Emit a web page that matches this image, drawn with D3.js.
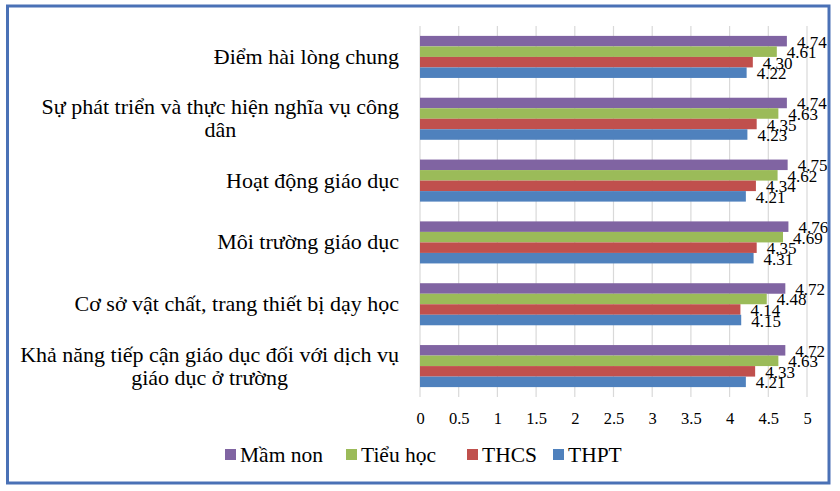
<!DOCTYPE html>
<html>
<head>
    <meta charset="UTF-8">
    <title>Mức độ hài lòng theo cấp học</title>
    <script src="https://d3js.org/d3.v7.min.js"></script>
    <style>
        body { margin: 0; background: #fff; }
    </style>
</head>
<body>
    <div id="chart"></div>

    <script>
        // Categories (top to bottom), "\n" = line break as in the original
        const categories = [
            "Điểm hài lòng chung",
            "Sự phát triển và thực hiện nghĩa vụ công\ndân",
            "Hoạt động giáo dục",
            "Môi trường giáo dục",
            "Cơ sở vật chất, trang thiết bị dạy học",
            "Khả năng tiếp cận giáo dục đối với dịch vụ\ngiáo dục ở trường"
        ];
        const seriesNames = ["Mầm non", "Tiểu học", "THCS", "THPT"];
        const seriesColors = ["#8064a2", "#9bbb59", "#c0504d", "#4f81bd"];

        const mamNon  = [4.74, 4.74, 4.75, 4.76, 4.72, 4.72];
        const tieuHoc = [4.61, 4.63, 4.62, 4.69, 4.48, 4.63];
        const thcs    = [4.30, 4.35, 4.34, 4.35, 4.14, 4.33];
        const thpt    = [4.22, 4.23, 4.21, 4.31, 4.15, 4.21];
        const seriesValues = [mamNon, tieuHoc, thcs, thpt];

        const xTicks = [0, 0.5, 1, 1.5, 2, 2.5, 3, 3.5, 4, 4.5, 5];

        const FONT = '"Liberation Serif", "Times New Roman", serif';
        const W = 840, H = 491;
        const plot = { left: 420, right: 807, top: 26, bottom: 397 };

        const svg = d3.select("#chart").append("svg")
            .attr("width", W).attr("height", H)
            .style("font-family", FONT);
        svg.append("rect").attr("width", W).attr("height", H).attr("fill", "#fff");

        const x = d3.scaleLinear().domain([0, 5]).range([plot.left, plot.right]);
        const y0 = d3.scaleBand().domain(d3.range(categories.length))
            .range([plot.top, plot.bottom]).paddingInner(0.32).paddingOuter(0.16);
        const y1 = d3.scaleBand().domain(d3.range(seriesNames.length)).range([0, y0.bandwidth()]);

        // gridlines
        svg.append("g").selectAll("line")
            .data(xTicks)
            .enter().append("line")
            .attr("x1", d => x(d)).attr("x2", d => x(d))
            .attr("y1", plot.top).attr("y2", plot.bottom)
            .attr("stroke", "#d9d9d9").attr("stroke-width", 1.2);

        // x axis labels (no domain line, no tick marks)
        const xAxis = svg.append("g").attr("transform", `translate(0,${plot.bottom})`)
            .call(d3.axisBottom(x).tickValues(xTicks).tickFormat(d3.format("~g")).tickSize(0).tickPadding(15));
        xAxis.attr("font-family", null);
        xAxis.select(".domain").remove();
        xAxis.selectAll("text")
            .style("font-family", FONT).style("font-size", "16.5px").attr("fill", "#000");

        // bars
        const rows = [];
        categories.forEach((c, i) => seriesValues.forEach((vals, s) => rows.push({ i, s, v: vals[i] })));

        svg.append("g").selectAll("rect")
            .data(rows)
            .enter().append("rect")
            .attr("x", x(0))
            .attr("y", d => y0(d.i) + y1(d.s))
            .attr("width", d => x(d.v) - x(0))
            .attr("height", y1.bandwidth())
            .attr("fill", d => seriesColors[d.s]);

        // value labels
        svg.append("g").selectAll("text")
            .data(rows)
            .enter().append("text")
            .attr("x", d => x(d.v) + 10)
            .attr("y", d => y0(d.i) + y1(d.s) + y1.bandwidth() / 2 + 6.5)
            .style("font-family", FONT).style("font-size", "17px")
            .text(d => d.v.toFixed(2));

        // category labels, right aligned block, lines centred within it
        const lineH = 23;
        const labelRight = 399;
        categories.forEach((c, i) => {
            const lines = c.split("\n");
            const cy = y0(i) + y0.bandwidth() / 2;
            const texts = svg.append("g").selectAll("text")
                .data(lines)
                .enter().append("text")
                .style("font-family", FONT).style("font-size", "22px")
                .attr("text-anchor", "middle")
                .attr("y", (d, k) => cy + (k - (lines.length - 1) / 2) * lineH + 7)
                .text(d => d);
            const blockW = d3.max(texts.nodes(), n => n.getComputedTextLength());
            texts.attr("x", labelRight - blockW / 2);
        });

        // legend
        const legendX = [225, 346, 467, 553];
        const legendY = 455;
        const legend = svg.append("g");
        seriesNames.forEach((name, s) => {
            legend.append("rect")
                .attr("x", legendX[s]).attr("y", legendY - 6)
                .attr("width", 11).attr("height", 11)
                .attr("fill", seriesColors[s]);
            legend.append("text")
                .attr("x", legendX[s] + 15).attr("y", legendY + 7)
                .style("font-family", FONT).style("font-size", "21.5px")
                .text(name);
        });

        // outer frame
        svg.append("rect")
            .attr("x", 7.5).attr("y", 6)
            .attr("width", 829 - 7.5).attr("height", 483 - 6)
            .attr("fill", "none")
            .attr("stroke", "#4a71b6").attr("stroke-width", 3);
    </script>
</body>
</html>
